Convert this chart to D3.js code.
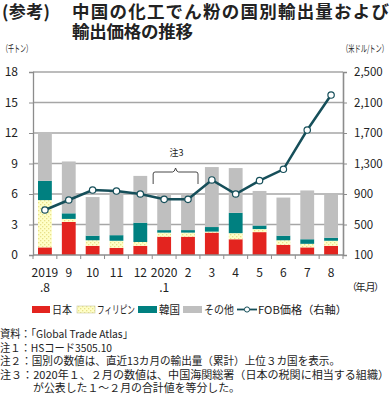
<!DOCTYPE html>
<html><head><meta charset="utf-8">
<script src="https://cdn.jsdelivr.net/npm/d3@7"></script>
<style>
body{margin:0;background:#fff;}
text{font-family:"Noto Sans CJK JP","Noto Sans",sans-serif;}
</style></head>
<body><svg id="c" width="392" height="395"></svg>
<script>
const categories = ["2019.8","9","10","11","12","2020.1","2","3","4","5","6","7","8"];
const catLine1 = ["2019","9","10","11","12","2020","2","3","4","5","6","7","8"];
const catLine2 = [".8","","","","",".1","","","","","","",""];
const japan = [0.75,3.25,0.9,0.7,0.9,1.8,1.8,2.2,1.55,2.25,1.0,0.75,0.9];
const philippines = [4.65,0.3,0.55,0.7,0.38,0.4,0.4,0.1,0.6,0.3,0.45,0.35,0.5];
const korea = [1.9,0.55,0.45,0.55,1.9,0.25,0.25,0.45,2.0,0.35,0.45,0.45,0.3];
const other = [4.8,5.1,3.8,4.25,4.6,3.6,3.6,5.9,4.4,3.4,3.75,4.8,4.2];
const fobPrice = [690,821,952,939,900,830,830,1084,900,1075,1224,1739,2198];
const leftTicks = [0,3,6,9,12,15,18];
const rightTicks = [100,500,900,1300,1700,2100,2500];
const seriesNames = ["日本","フィリピン","韓国","その他"];
const lineName = "FOB価格（右軸）";
const notes = [
 "資料：「Global Trade Atlas」",
 "注１：HSコード3505.10",
 "注２：国別の数値は、直近13カ月の輸出量（累計）上位３カ国を表示。",
 "注３：2020年１、２月の数値は、中国海関総署（日本の税関に相当する組織）",
 "が公表した１～２月の合計値を等分した。"
];

const svg = d3.select("#c");
const defs = svg.append("defs");
const pat = defs.append("pattern").attr("id","dots").attr("width",4).attr("height",4).attr("patternUnits","userSpaceOnUse");
pat.append("rect").attr("width",4).attr("height",4).attr("fill","#ffffc8");
pat.append("rect").attr("x",0).attr("y",0).attr("width",1.3).attr("height",1.3).attr("fill","#e8e08a");
pat.append("rect").attr("x",2).attr("y",2).attr("width",1.3).attr("height",1.3).attr("fill","#e8e08a");

const colors = ["#e3241f","url(#dots)","#008080","#bfbfbf"];
const lineColor = "#164f5a";
const L=33, R=343, T=72, B=255;
const x = d3.scaleBand().domain(categories).range([L,R]).paddingInner(0.42).paddingOuter(0.21);
const y = d3.scaleLinear().domain([0,18]).range([B,T]);
const y2 = d3.scaleLinear().domain([100,2500]).range([B,T]);
const numFont = "'Noto Sans','DejaVu Sans',sans-serif";

// title
svg.append("text").attr("x",2).attr("y",18).attr("font-size",17).attr("font-weight","bold").attr("fill","#222").attr("textLength",48).text("(参考)");
svg.append("text").attr("x",72).attr("y",18).attr("font-size",17.5).attr("font-weight","bold").attr("fill","#222").attr("textLength",317).text("中国の化工でん粉の国別輸出量および");
svg.append("text").attr("x",72).attr("y",38).attr("font-size",17.5).attr("font-weight","bold").attr("fill","#222").attr("textLength",121).text("輸出価格の推移");
svg.append("text").attr("x",2).attr("y",52).attr("font-size",9.5).attr("fill","#222").attr("textLength",30).attr("lengthAdjust","spacingAndGlyphs").text("（千トン）");
svg.append("text").attr("x",342).attr("y",52).attr("font-size",9.5).attr("fill","#222").attr("textLength",46).attr("lengthAdjust","spacingAndGlyphs").text("（米ドル/トン）");

// gridlines
svg.append("g").selectAll("line").data(leftTicks.filter(d=>d>0)).join("line")
 .attr("x1",L).attr("x2",R).attr("y1",d=>y(d)).attr("y2",d=>y(d)).attr("stroke","#a6a6a6").attr("stroke-width",1.3);

// stacked bars
const rows = categories.map((c,i)=>({cat:c, s0:japan[i], s1:philippines[i], s2:korea[i], s3:other[i]}));
const stack = d3.stack().keys(["s0","s1","s2","s3"])(rows);
svg.append("g").selectAll("g").data(stack).join("g").attr("fill",(d,i)=>colors[i])
 .selectAll("rect").data(d=>d).join("rect")
 .attr("x",d=>x(d.data.cat)).attr("width",x.bandwidth())
 .attr("y",d=>y(d[1])).attr("height",d=>y(d[0])-y(d[1]));

// axes
const gl = svg.append("g").attr("transform",`translate(${L},0)`)
 .call(d3.axisLeft(y).tickValues(leftTicks).tickSize(4).tickPadding(11));
gl.select(".domain").attr("stroke","#8c8c8c").attr("stroke-width",1.3);
gl.selectAll(".tick line").attr("stroke","#8c8c8c");
gl.selectAll("text").attr("font-size",12).attr("fill","#222").attr("font-family",numFont);

const gr = svg.append("g").attr("transform",`translate(${R},0)`)
 .call(d3.axisRight(y2).tickValues(rightTicks).tickFormat(d3.format(",")).tickSize(4).tickPadding(7));
gr.select(".domain").attr("stroke","#8c8c8c").attr("stroke-width",1.6);
gr.selectAll(".tick line").attr("stroke","#8c8c8c");
gr.selectAll("text").attr("font-size",11.5).attr("fill","#222").attr("font-family",numFont);

// bottom axis
svg.append("line").attr("x1",L).attr("x2",R).attr("y1",B).attr("y2",B).attr("stroke","#8c8c8c").attr("stroke-width",1.3);
const bounds = d3.range(categories.length+1).map(i=> i===0?L:(i===categories.length?R:x(categories[i])-(x.step()-x.bandwidth())/2));
svg.append("g").selectAll("line").data(bounds).join("line")
 .attr("x1",d=>d).attr("x2",d=>d).attr("y1",B).attr("y2",B+4).attr("stroke","#8c8c8c");
const xl = svg.append("g");
xl.selectAll("text.l1").data(categories).join("text").attr("class","l1")
 .attr("x",d=>x(d)+x.bandwidth()/2).attr("y",277).attr("text-anchor","middle")
 .attr("font-size",12).attr("fill","#222").attr("font-family",numFont)
 .text((d,i)=>catLine1[i]);
xl.selectAll("text.l2").data(categories.filter((d,i)=>catLine2[i])).join("text").attr("class","l2")
 .attr("x",d=>x(d)+x.bandwidth()/2).attr("y",292).attr("text-anchor","middle")
 .attr("font-size",12).attr("fill","#222").attr("font-family",numFont)
 .text(d=>catLine2[categories.indexOf(d)]);
svg.append("text").attr("x",347).attr("y",291).attr("font-size",10).attr("fill","#222").attr("textLength",37).text("（年.月）");

// line
const cx = d=>x(d)+x.bandwidth()/2;
svg.append("path").datum(categories).attr("fill","none").attr("stroke",lineColor).attr("stroke-width",2.5)
 .attr("d",d3.line().x(d=>cx(d)).y((d,i)=>y2(fobPrice[i])));
svg.append("g").selectAll("circle").data(categories).join("circle")
 .attr("cx",d=>cx(d)).attr("cy",(d,i)=>y2(fobPrice[i])).attr("r",3.2)
 .attr("fill","#fff").attr("stroke",lineColor).attr("stroke-width",1.2);

// note 3 brace
const bl = cx(categories[5]) - 11, br = cx(categories[6]) + 10, bm = (bl+br)/2;
svg.append("path").attr("fill","none").attr("stroke","#333").attr("stroke-width",0.9)
 .attr("d",`M${bl},184 L${bl},174 Q${bl},172 ${bl+2},172 L${bm-3},172 Q${bm-1},172 ${bm},168 Q${bm+1},172 ${bm+3},172 L${br-2},172 Q${br},172 ${br},174 L${br},184`);
svg.append("text").attr("x",bm+1).attr("y",156).attr("text-anchor","middle").attr("font-size",9).attr("fill","#222").text("注3");

// legend
const lg = svg.append("g");
const legItems = [
 {x:32,w:18,c:colors[0],t:seriesNames[0],tl:20},
 {x:77,w:18,c:colors[1],t:seriesNames[1],tl:38},
 {x:138,w:19,c:colors[2],t:seriesNames[2],tl:21},
 {x:183,w:19,c:colors[3],t:seriesNames[3],tl:30}
];
legItems.forEach(it=>{
 lg.append("rect").attr("x",it.x).attr("y",306).attr("width",it.w).attr("height",7).attr("fill",it.c)
  .attr("stroke",it.c==="url(#dots)"?"#c8c8a0":"none").attr("stroke-width",0.6);
 lg.append("text").attr("x",it.x+it.w+2).attr("y",314).attr("font-size",11).attr("fill","#222")
  .attr("textLength",it.tl).attr("lengthAdjust","spacingAndGlyphs").text(it.t);
});
lg.append("line").attr("x1",237).attr("x2",257).attr("y1",309.5).attr("y2",309.5).attr("stroke",lineColor).attr("stroke-width",1.8);
lg.append("circle").attr("cx",247).attr("cy",309.5).attr("r",2.6).attr("fill","#fff").attr("stroke",lineColor).attr("stroke-width",1);
lg.append("text").attr("x",258).attr("y",314).attr("font-size",11).attr("fill","#222").attr("textLength",89).attr("lengthAdjust","spacingAndGlyphs").text(lineName);

// notes
const noteX = [0,0,0,0,33];
const noteW = [133,112,340,389,207];
svg.append("g").selectAll("text").data(notes).join("text")
 .attr("x",(d,i)=>noteX[i]).attr("y",(d,i)=>338+i*13.6).attr("font-size",10.8).attr("fill","#222")
 .attr("textLength",(d,i)=>noteW[i]).attr("lengthAdjust","spacingAndGlyphs").text(d=>d);
</script></body></html>
